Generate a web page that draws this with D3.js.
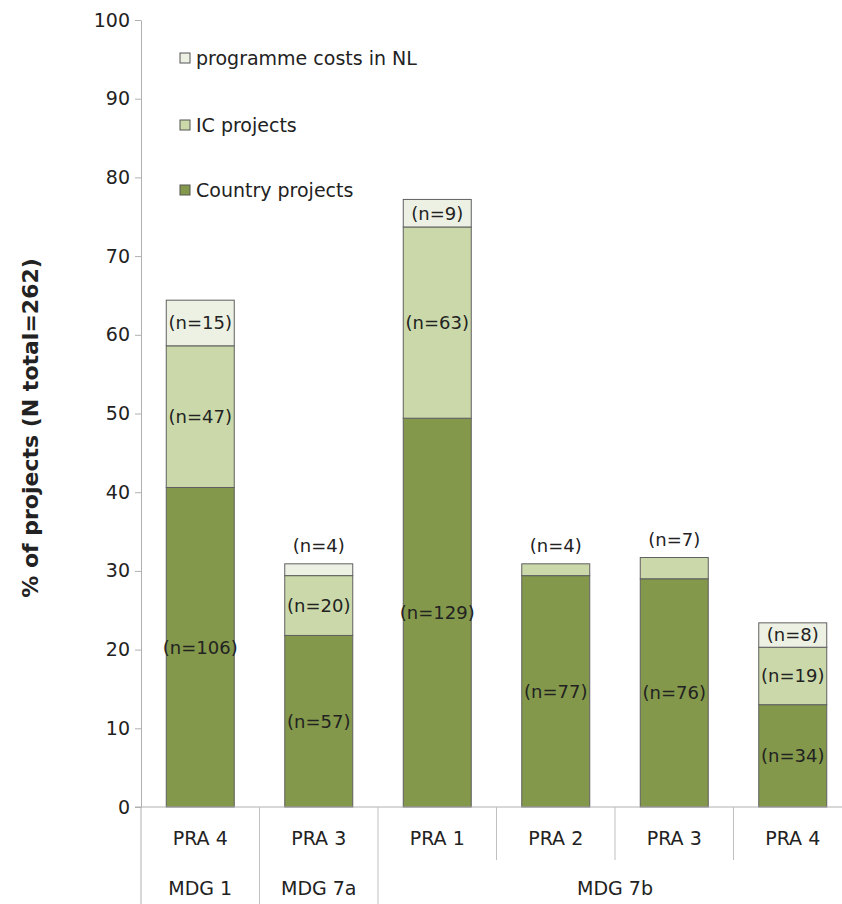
<!DOCTYPE html>
<html>
<head>
<meta charset="utf-8">
<script src="https://cdn.jsdelivr.net/npm/d3@7"></script>
<style>
  body { margin: 0; background: #fff; }
  text { font-family: "DejaVu Sans", Verdana, sans-serif; fill: #222; }
</style>
</head>
<body>
<div id="chart"></div>
<script>
// categories (bottom row + group row)
var categories = ['PRA 4', 'PRA 3', 'PRA 1', 'PRA 2', 'PRA 3', 'PRA 4'];
var groups = [
  {name: 'MDG 1', from: 0, to: 0},
  {name: 'MDG 7a', from: 1, to: 1},
  {name: 'MDG 7b', from: 2, to: 5}
];

// % of projects per segment
var countryPct = [40.6, 21.8, 49.4, 29.4, 29.0, 13.0];
var icPct      = [18.0, 7.6, 24.3, 1.5, 2.7, 7.3];
var progPct    = [5.8, 1.5, 3.5, 0, 0, 3.1];

// counts shown as labels
var countryN = [106, 57, 129, 77, 76, 34];
var icN      = [47, 20, 63, 4, 7, 19];
var progN    = [15, 4, 9, null, null, 8];

var yTicks = [0, 10, 20, 30, 40, 50, 60, 70, 80, 90, 100];

var width = 842,
    height = 904,
    margin = {top: 20, left: 141, bottom: 97},
    step = 118.5;

var keys = ['country', 'ic', 'prog'];
var colors = {country: '#83984a', ic: '#cbd9aa', prog: '#edf1e3'};
var legendNames = {prog: 'programme costs in NL', ic: 'IC projects', country: 'Country projects'};

var rows = categories.map(function(c, i) {
  return {idx: i, country: countryPct[i], ic: icPct[i], prog: progPct[i],
          n: {country: countryN[i], ic: icN[i], prog: progN[i]}};
});

var svg = d3.select('#chart').append('svg')
  .attr('width', width)
  .attr('height', height);

var x = d3.scaleBand()
  .domain(d3.range(categories.length))
  .range([margin.left, margin.left + step * categories.length])
  .padding(0);

var barW = 68;

var y = d3.scaleLinear().domain([0, 100]).range([height - margin.bottom, margin.top]);
var y0 = y(0);

// y axis
var yAxis = d3.axisLeft(y).tickValues(yTicks).tickSize(6).tickSizeOuter(0).tickPadding(5);
var gy = svg.append('g')
  .attr('transform', `translate(${margin.left},0)`)
  .call(yAxis);
gy.select('.domain').attr('stroke', '#b0b0b0');
gy.selectAll('.tick line').attr('stroke', '#b0b0b0');
gy.selectAll('.tick text').style('font-size', '19px').attr('fill', '#222');

// stacked bars
var stack = d3.stack().keys(keys)(rows);

var layer = svg.selectAll('.layer')
  .data(stack)
  .enter().append('g')
  .attr('class', 'layer')
  .attr('fill', d => colors[d.key]);

layer.selectAll('rect')
  .data(d => d.filter(s => s[1] - s[0] > 0))
  .enter().append('rect')
  .attr('x', d => x(d.data.idx) + (x.bandwidth() - barW) / 2)
  .attr('y', d => y(d[1]))
  .attr('width', barW)
  .attr('height', d => y(d[0]) - y(d[1]))
  .attr('stroke', '#5f5f5f')
  .attr('stroke-width', 1);

// segment labels
stack.forEach(function(s) {
  s.forEach(function(d) {
    var n = d.data.n[s.key];
    if (n == null) return;
    var h = y(d[0]) - y(d[1]);
    var cy = h < 23 ? y(d[1]) - 18 : (y(d[0]) + y(d[1])) / 2;
    svg.append('text')
      .attr('x', x(d.data.idx) + x.bandwidth() / 2)
      .attr('y', cy)
      .attr('dy', '0.35em')
      .attr('text-anchor', 'middle')
      .style('font-size', '18px')
      .text('(n=' + n + ')');
  });
});

// x axis line
svg.append('line')
  .attr('x1', margin.left - 6).attr('x2', width)
  .attr('y1', y0).attr('y2', y0)
  .attr('stroke', '#b0b0b0');

// left axis line continues down
svg.append('line')
  .attr('x1', margin.left).attr('x2', margin.left)
  .attr('y1', y0).attr('y2', height)
  .attr('stroke', '#b0b0b0');

// separators
d3.range(1, categories.length).forEach(function(i) {
  var full = groups.some(g => g.from === i);
  svg.append('line')
    .attr('x1', x(i)).attr('x2', x(i))
    .attr('y1', y0).attr('y2', full ? height : y0 + 53)
    .attr('stroke', '#c0c0c0');
});

// category labels
svg.selectAll('.cat')
  .data(categories)
  .enter().append('text')
  .attr('class', 'cat')
  .attr('x', (d, i) => x(i) + x.bandwidth() / 2)
  .attr('y', y0 + 31)
  .attr('dy', '0.35em')
  .attr('text-anchor', 'middle')
  .style('font-size', '19px')
  .text(d => d);

// group labels
svg.selectAll('.grp')
  .data(groups)
  .enter().append('text')
  .attr('class', 'grp')
  .attr('x', d => (x(d.from) + x(d.to) + x.bandwidth()) / 2)
  .attr('y', y0 + 81)
  .attr('dy', '0.35em')
  .attr('text-anchor', 'middle')
  .style('font-size', '19px')
  .text(d => d.name);

// legend
var legendKeys = ['prog', 'ic', 'country'];
var legendY = [58, 125, 190];
var lg = svg.selectAll('.lg')
  .data(legendKeys)
  .enter().append('g')
  .attr('class', 'lg')
  .attr('transform', (d, i) => `translate(180,${legendY[i]})`);
lg.append('rect')
  .attr('x', 0).attr('y', -5)
  .attr('width', 10).attr('height', 10)
  .attr('fill', d => colors[d])
  .attr('stroke', '#555');
lg.append('text')
  .attr('x', 16)
  .attr('dy', '0.35em')
  .style('font-size', '19px')
  .text(d => legendNames[d]);

// y title
svg.append('text')
  .attr('transform', 'translate(30,428) rotate(-90)')
  .attr('text-anchor', 'middle')
  .attr('dy', '0.35em')
  .style('font-size', '22px')
  .style('font-weight', 'bold')
  .text('% of projects (N total=262)');
</script>
</body>
</html>
